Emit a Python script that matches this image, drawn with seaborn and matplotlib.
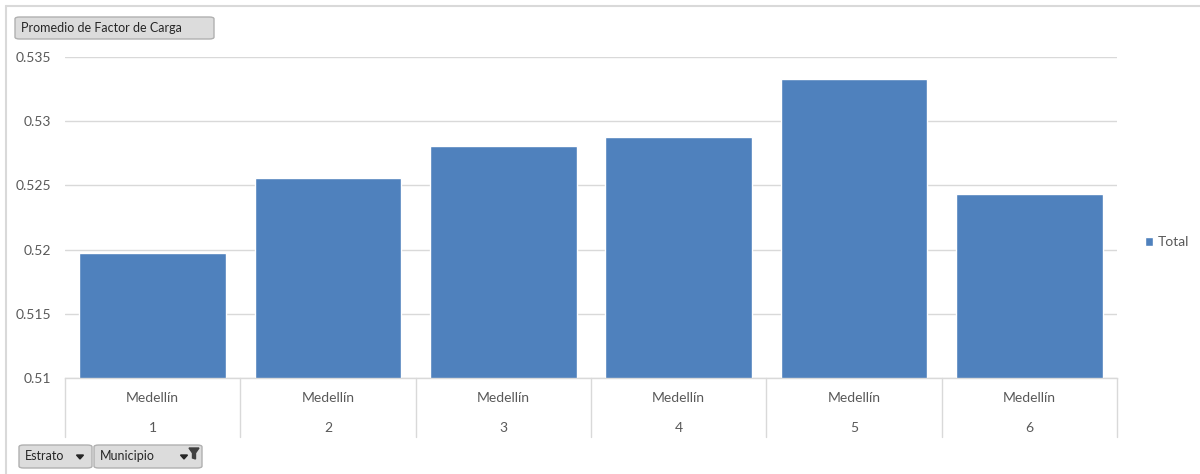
import matplotlib
matplotlib.use("Agg")
import matplotlib.pyplot as plt
import seaborn as sns
import pandas as pd
from matplotlib.patches import FancyBboxPatch, Polygon
from matplotlib.lines import Line2D
from matplotlib.ticker import FuncFormatter

# datos
municipio = ["Medellín"] * 6
estrato = ["1", "2", "3", "4", "5", "6"]
factor_carga = [0.5197, 0.5256, 0.5281, 0.5288, 0.5333, 0.5243]
y_ticks = [0.51, 0.515, 0.52, 0.525, 0.53, 0.535]

df = pd.DataFrame({"municipio": municipio, "estrato": estrato, "valor": factor_carga})
df["etiqueta"] = df["municipio"] + "\n" + df["estrato"]

sns.set_theme(style="white")
plt.rcParams["font.family"] = ["Lato", "DejaVu Sans"]

azul = "#4F81BD"
gris_texto = "#595959"
gris_linea = "#D9D9D9"

fig = plt.figure(figsize=(12, 4.74), dpi=100)
ax = fig.add_axes([65 / 1200, 1 - 378 / 474, (1117 - 65) / 1200, (378 - 57) / 474])

sns.barplot(data=df, x="etiqueta", y="valor", color=azul, saturation=1,
            width=0.835, ax=ax, label="Total")

ax.set_ylim(0.51, 0.535)
ax.set_xlim(-0.5, 5.5)
ax.set_yticks(y_ticks)
ax.yaxis.set_major_formatter(FuncFormatter(lambda v, p: f"{v:g}"))
ax.set_xlabel("")
ax.set_ylabel("")
ax.grid(axis="y", color=gris_linea, linewidth=1)
ax.set_axisbelow(True)
for s in ["top", "right", "left"]:
    ax.spines[s].set_visible(False)
ax.spines["bottom"].set_color(gris_linea)
ax.spines["bottom"].set_linewidth(1)

ax.tick_params(axis="y", length=0, pad=10, labelsize=10, labelcolor=gris_texto)
ax.tick_params(axis="x", length=0, pad=10, labelsize=10, labelcolor=gris_texto)
for t in ax.get_xticklabels():
    t.set_linespacing(2.8)

# separadores verticales del eje de categorias
trans = ax.get_xaxis_transform()
for i in range(len(estrato) + 1):
    ax.add_line(Line2D([i - 0.5, i - 0.5], [0, -0.184], transform=trans,
                       color=gris_linea, linewidth=1, clip_on=False))

# leyenda
ax.legend(loc="center left", bbox_to_anchor=(1132 / 1200, 1 - 242 / 474),
          bbox_transform=fig.transFigure, frameon=False, handlelength=0.6,
          handleheight=0.6, handletextpad=0.35, fontsize=10,
          labelcolor=gris_texto)

# borde exterior
fig.add_artist(Line2D([6 / 1200, 1], [1 - 6 / 474, 1 - 6 / 474], color=gris_linea, linewidth=1.5))
fig.add_artist(Line2D([6 / 1200, 6 / 1200], [0, 1 - 6 / 474], color=gris_linea, linewidth=1.5))


def boton(x0, y0, x1, y1, texto):
    w = (x1 - x0) / 1200
    h = (y1 - y0) / 474
    p = FancyBboxPatch((x0 / 1200, 1 - y1 / 474), w, h,
                       boxstyle="round,pad=0,rounding_size=0.004",
                       transform=fig.transFigure, facecolor="#DCDCDC",
                       edgecolor="#B0B0B0", linewidth=1)
    fig.add_artist(p)
    fig.text((x0 + 6) / 1200, 1 - (y0 + y1) / 2 / 474, texto, fontsize=9,
             color="#262626", va="center", ha="left")


boton(15, 17, 214, 39, "Promedio de Factor de Carga")
boton(19, 445, 92, 468, "Estrato")
boton(94, 445, 202, 468, "Municipio")

# flechas de los botones
for cx in [80, 184]:
    cy = 457
    tri = Polygon([[(cx - 3.5) / 1200, 1 - (cy - 2) / 474],
                   [(cx + 3.5) / 1200, 1 - (cy - 2) / 474],
                   [cx / 1200, 1 - (cy + 2) / 474]],
                  closed=True, transform=fig.transFigure, color="#262626")
    fig.add_artist(tri)
# icono de filtro
filtro = Polygon([[189 / 1200, 1 - 448 / 474], [199 / 1200, 1 - 448 / 474],
                  [195.5 / 1200, 1 - 453 / 474], [195.5 / 1200, 1 - 459 / 474],
                  [192.5 / 1200, 1 - 458 / 474], [192.5 / 1200, 1 - 453 / 474]],
                 closed=True, transform=fig.transFigure, color="#404040")
fig.add_artist(filtro)

fig.savefig("out.png", dpi=100, facecolor="white")
